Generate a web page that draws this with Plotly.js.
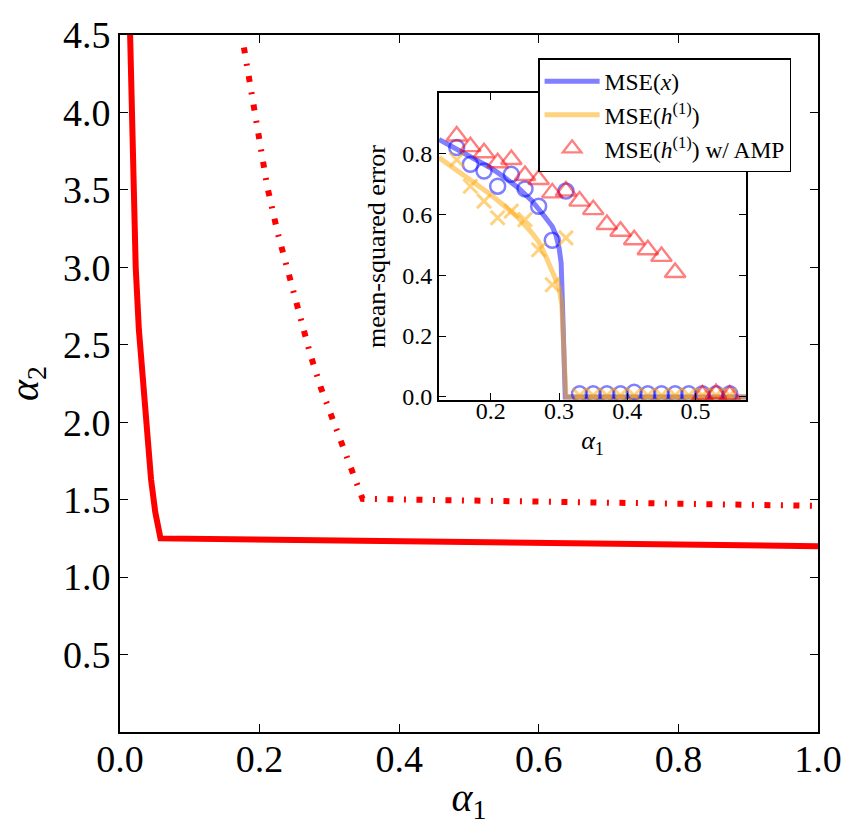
<!DOCTYPE html>
<html>
<head>
<meta charset="utf-8">
<script src="https://cdn.plot.ly/plotly-3.0.1.min.js"></script>
<style>
  html, body { margin: 0; padding: 0; background: #fff; }
  #chart { width: 858px; height: 839px; }
</style>
</head>
<body>
<div id="chart"></div>
<script>
// Phase boundaries in the (alpha1, alpha2) plane
const solidAlpha1 = [0.0145, 0.017, 0.0195, 0.0225, 0.027, 0.0315, 0.0345, 0.0385, 0.0445, 0.0505, 0.058, 1.0];
const solidAlpha2 = [4.5, 4.0, 3.5, 3.0, 2.6, 2.35, 2.15, 1.85, 1.63, 1.42, 1.25, 1.2];

const dashAlpha1 = [0.1775, 0.1965, 0.211, 0.2255, 0.241, 0.2555, 0.2725, 0.288, 0.304, 0.3205, 0.334, 0.3475, 1.0];
const dashAlpha2 = [4.42, 3.88, 3.52, 3.23, 2.96, 2.72, 2.44, 2.22, 2.03, 1.85, 1.68, 1.505, 1.46];

// Inset: theory curves of the mean-squared error vs alpha1
const mseXAlpha1 = [0.124, 0.14, 0.16, 0.18, 0.20, 0.22, 0.24, 0.26, 0.27, 0.28, 0.29, 0.295, 0.30, 0.303, 0.305, 0.307, 0.309, 0.574];
const mseXValue  = [0.847, 0.828, 0.803, 0.778, 0.753, 0.722, 0.688, 0.645, 0.62, 0.59, 0.56, 0.535, 0.49, 0.44, 0.30, 0.12, 0.0, 0.0];

const mseHAlpha1 = [0.124, 0.14, 0.16, 0.18, 0.20, 0.22, 0.24, 0.26, 0.27, 0.28, 0.29, 0.30, 0.304, 0.307, 0.31, 0.574];
const mseHValue  = [0.787, 0.762, 0.73, 0.697, 0.665, 0.628, 0.59, 0.54, 0.51, 0.465, 0.41, 0.36, 0.30, 0.12, 0.0, 0.0];

// Inset: simulation points
const simAlpha1 = [0.15, 0.17, 0.19, 0.21, 0.23, 0.25, 0.27, 0.29, 0.31, 0.33, 0.35, 0.37, 0.39, 0.41, 0.43, 0.45, 0.47, 0.49, 0.51, 0.53, 0.55];
const simMseX = [0.82, 0.765, 0.743, 0.693, 0.732, 0.684, 0.627, 0.515, 0.677, 0.01, 0.01, 0.01, 0.01, 0.015, 0.01, 0.01, 0.01, 0.01, 0.01, 0.01, 0.01];
const simMseH = [0.78, 0.693, 0.644, 0.589, 0.611, 0.583, 0.484, 0.369, 0.523, 0.005, 0.005, 0.005, 0.005, 0.005, 0.005, 0.005, 0.005, 0.005, 0.005, 0.005, 0.005];

const ampAlpha1 = [0.15, 0.17, 0.19, 0.21, 0.23, 0.25, 0.27, 0.29, 0.31, 0.33, 0.35, 0.37, 0.39, 0.41, 0.43, 0.45, 0.47, 0.51, 0.53, 0.55];
const ampMseH = [0.858, 0.823, 0.803, 0.770, 0.781, 0.728, 0.715, 0.671, 0.677, 0.644, 0.616, 0.567, 0.545, 0.517, 0.484, 0.462, 0.409, 0.006, 0.011, 0.006];

const mainXTicks = [0, 0.2, 0.4, 0.6, 0.8, 1.0];
const mainYTicks = [0.5, 1.0, 1.5, 2.0, 2.5, 3.0, 3.5, 4.0, 4.5];
const insetXTicks = [0.2, 0.3, 0.4, 0.5];
const insetYTicks = [0.0, 0.2, 0.4, 0.6, 0.8];

const SERIF = 'Liberation Serif';
const BLUE = 'rgba(0,0,255,0.5)';
const ORANGE = 'rgba(255,165,0,0.5)';
const RED_A = 'rgba(255,0,0,0.5)';

const traces = [
  {
    x: solidAlpha1, y: solidAlpha2, xaxis: 'x', yaxis: 'y',
    mode: 'lines', line: { color: '#ff0000', width: 6 },
    showlegend: false, hoverinfo: 'skip'
  },
  {
    x: dashAlpha1, y: dashAlpha2, xaxis: 'x', yaxis: 'y',
    mode: 'lines', line: { color: '#ff0000', width: 6, dash: '6px,10.5px,2px,10.5px' },
    showlegend: false, hoverinfo: 'skip'
  },
  {
    x: mseXAlpha1, y: mseXValue, xaxis: 'x2', yaxis: 'y2',
    mode: 'lines', line: { color: BLUE, width: 5 },
    name: 'MSE(<i>x</i>)', legendgroup: 'a'
  },
  {
    x: mseHAlpha1, y: mseHValue, xaxis: 'x2', yaxis: 'y2',
    mode: 'lines', line: { color: ORANGE, width: 5 },
    name: 'MSE(<i>h</i><sup>(1)</sup>)', legendgroup: 'b'
  },
  {
    x: simAlpha1, y: simMseX, xaxis: 'x2', yaxis: 'y2',
    mode: 'markers', cliponaxis: true,
    marker: { symbol: 'circle-open', size: 15, color: BLUE, line: { width: 2.5 } },
    showlegend: false
  },
  {
    x: simAlpha1, y: simMseH, xaxis: 'x2', yaxis: 'y2',
    mode: 'markers', cliponaxis: true,
    marker: { symbol: 'x-thin-open', size: 14, color: ORANGE, line: { width: 3 } },
    showlegend: false
  },
  {
    x: ampAlpha1, y: ampMseH, xaxis: 'x2', yaxis: 'y2',
    mode: 'markers', cliponaxis: true,
    marker: { symbol: 'triangle-up-open', size: 18, color: RED_A, line: { width: 2.4 } },
    name: 'MSE(<i>h</i><sup>(1)</sup>) w/ AMP', legendgroup: 'c'
  }
];

const axisCommon = {
  showline: true, linecolor: '#000', linewidth: 2, mirror: 'ticks',
  ticks: 'inside', tickcolor: '#000', tickwidth: 1,
  showgrid: false, zeroline: false, tickmode: 'array', tickformat: '.1f'
};

const layout = {
  width: 858, height: 839,
  margin: { l: 120, r: 40, t: 35, b: 107, pad: 0 },
  paper_bgcolor: '#fff', plot_bgcolor: '#fff',
  font: { family: SERIF, color: '#000' },
  showlegend: true,
  legend: {
    x: 0.599, y: 0.967, xanchor: 'left', yanchor: 'top',
    bgcolor: '#fff', bordercolor: '#000', borderwidth: 1.5,
    font: { family: SERIF, size: 23.5, color: '#000' },
    tracegroupgap: 0, itemwidth: 55
  },
  xaxis: Object.assign({}, axisCommon, {
    domain: [0, 1], range: [0, 1.0], tickvals: mainXTicks, ticklen: 8,
    tickfont: { family: SERIF, size: 38 }, ticklabelstandoff: -8,
    title: { text: '<i>α</i><sub>1</sub>', font: { family: SERIF, size: 40 }, standoff: 4 },
    anchor: 'y'
  }),
  yaxis: Object.assign({}, axisCommon, {
    domain: [0, 1], range: [0, 4.5], tickvals: mainYTicks, ticklen: 8,
    tickfont: { family: SERIF, size: 38 },
    title: { text: '<i>α</i><sub>2</sub>', font: { family: SERIF, size: 40 }, standoff: 12 },
    anchor: 'x'
  }),
  xaxis2: Object.assign({}, axisCommon, {
    domain: [0.457, 0.897], range: [0.124, 0.574], tickvals: insetXTicks, ticklen: 7,
    tickfont: { family: SERIF, size: 24 }, ticklabelstandoff: -12,
    title: { text: '<i>α</i><sub>1</sub>', font: { family: SERIF, size: 26 }, standoff: 8 },
    anchor: 'y2'
  }),
  yaxis2: Object.assign({}, axisCommon, {
    domain: [0.476, 0.917], range: [-0.011, 1.0], tickvals: insetYTicks, ticklen: 7,
    tickfont: { family: SERIF, size: 24 },
    title: { text: 'mean-squared error', font: { family: SERIF, size: 26 }, standoff: 9 },
    anchor: 'x2'
  })
};

Plotly.newPlot('chart', traces, layout, { staticPlot: true, displayModeBar: false });
</script>
</body>
</html>
